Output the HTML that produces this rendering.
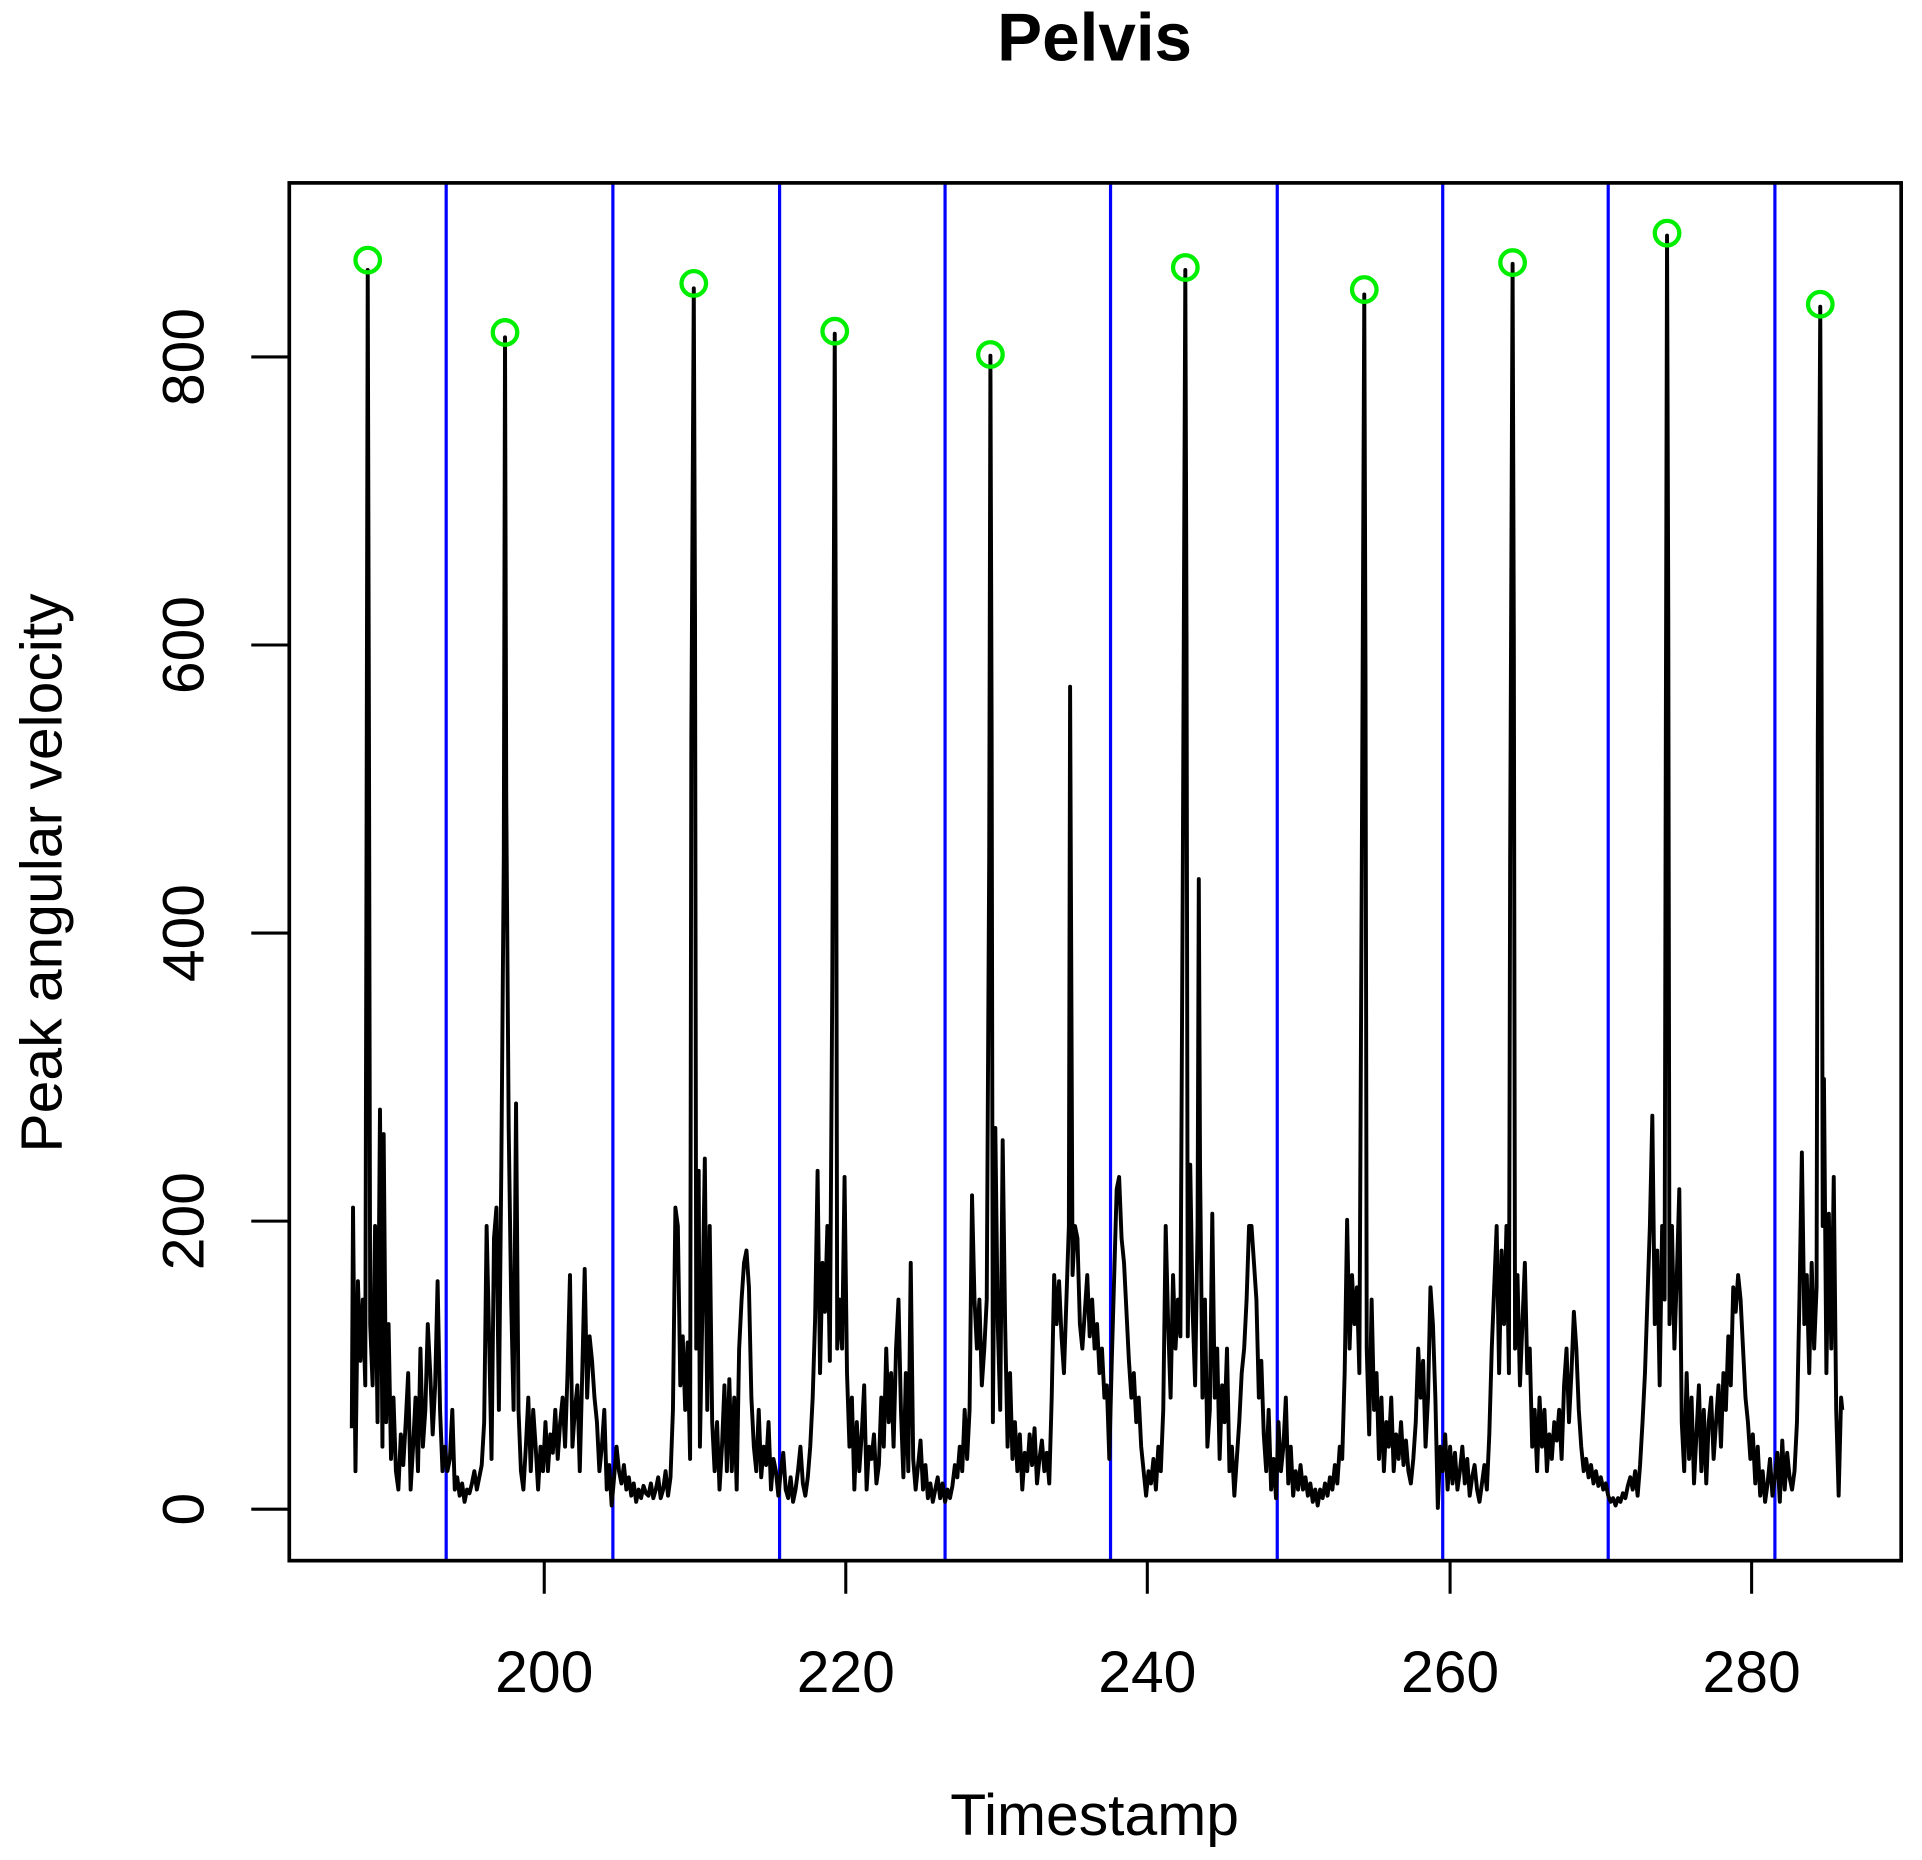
<!DOCTYPE html>
<html><head><meta charset="utf-8"><style>html,body{margin:0;padding:0;background:#fff}svg{display:block}</style></head>
<body>
<svg width="1922" height="1860" viewBox="0 0 1568 1517" xmlns="http://www.w3.org/2000/svg" font-family="Liberation Sans, Arial, sans-serif">
<rect width="1568" height="1517" fill="#fff"/>
<text x="893" y="49" font-size="55" font-weight="bold" text-anchor="middle">Pelvis</text>
<g stroke="#0000ff" stroke-width="2.6">
<line x1="364" y1="149" x2="364" y2="1273"/><line x1="500" y1="149" x2="500" y2="1273"/><line x1="636" y1="149" x2="636" y2="1273"/><line x1="771" y1="149" x2="771" y2="1273"/><line x1="906" y1="149" x2="906" y2="1273"/><line x1="1042" y1="149" x2="1042" y2="1273"/><line x1="1177" y1="149" x2="1177" y2="1273"/><line x1="1312" y1="149" x2="1312" y2="1273"/><line x1="1448" y1="149" x2="1448" y2="1273"/>
</g>
<polyline fill="none" stroke="#000" stroke-width="3.2" stroke-linejoin="round" points="287,1165 288,985 290,1200 292,1045 294,1110 296,1060 298,1130 299,700 300,220 301,600 302,1080 304,1130 306,1000 308,1160 310,905 312,1180 313,925 315,1160 317,1080 319,1190 321,1140 323,1200 325,1215 327,1170 329,1195 331,1160 333,1120 335,1215 337,1180 339,1140 341,1200 343,1100 345,1180 347,1150 349,1080 351,1120 353,1170 355,1130 357,1045 359,1150 361,1200 363,1180 365,1200 367,1190 369,1150 371,1215 373,1205 375,1220 377,1210 379,1225 381,1215 383,1218 385,1210 387,1200 389,1215 391,1205 393,1195 395,1160 397,1000 399,1090 401,1190 403,1010 405,985 407,1150 409,950 411,700 412,275 413,650 415,920 417,1060 419,1150 421,900 423,1150 425,1200 427,1215 429,1180 431,1140 433,1200 435,1150 437,1180 439,1215 441,1180 443,1200 445,1160 447,1200 449,1170 451,1185 453,1150 455,1190 457,1160 459,1140 461,1180 463,1120 465,1040 467,1180 469,1150 471,1130 473,1200 475,1120 477,1035 479,1140 481,1090 483,1110 485,1140 487,1160 489,1200 491,1180 493,1150 495,1215 497,1195 499,1228 501,1205 503,1180 505,1200 507,1210 509,1195 511,1215 513,1205 515,1220 517,1210 519,1225 521,1215 523,1222 525,1212 527,1218 529,1220 531,1210 533,1222 535,1215 537,1205 539,1222 541,1215 543,1200 545,1220 547,1205 549,1150 551,985 553,1000 555,1130 557,1090 559,1150 561,1095 563,1190 564,600 566,235 567,500 568,1100 570,955 571,1180 573,1070 575,945 577,1150 579,1000 581,1160 583,1200 585,1160 587,1215 589,1180 591,1130 593,1200 595,1125 597,1200 599,1140 601,1215 603,1100 605,1060 607,1030 609,1020 611,1050 613,1140 615,1180 617,1200 619,1150 621,1205 623,1180 625,1195 627,1160 629,1215 631,1190 633,1200 635,1220 637,1200 639,1185 641,1215 643,1222 645,1205 647,1225 649,1215 651,1200 653,1180 655,1210 657,1220 659,1205 661,1180 663,1140 665,1075 667,955 669,1120 671,1030 673,1070 675,1000 677,1110 679,800 681,272 682,550 683,1100 685,1060 687,1100 689,960 691,1120 693,1180 695,1140 697,1215 699,1160 701,1200 703,1170 705,1130 707,1215 709,1180 711,1190 713,1170 715,1210 717,1195 719,1140 721,1180 723,1100 725,1160 727,1120 729,1180 731,1100 733,1060 735,1150 737,1205 739,1120 741,1200 743,1030 745,1190 747,1215 749,1195 751,1175 753,1215 755,1195 757,1222 759,1210 761,1225 763,1215 765,1205 767,1222 769,1210 771,1225 773,1215 775,1222 777,1212 779,1195 781,1205 783,1180 785,1200 787,1150 789,1190 791,1150 793,975 795,1060 797,1100 799,1060 801,1130 803,1100 805,1060 807,700 808,290 809,600 810,1160 812,920 814,1080 816,1150 818,930 820,1080 822,1180 824,1120 826,1190 828,1160 830,1200 832,1170 834,1215 836,1185 838,1200 840,1170 842,1195 844,1165 846,1210 848,1190 850,1175 852,1200 854,1185 856,1210 858,1140 860,1040 862,1080 864,1045 866,1090 868,1120 870,1060 872,1000 873,560 874,800 875,1040 877,1000 879,1010 881,1080 883,1100 885,1070 887,1040 889,1090 891,1060 893,1100 895,1080 897,1120 899,1100 901,1140 903,1130 905,1190 907,1110 909,1040 911,970 913,960 915,1010 917,1030 919,1070 921,1110 923,1140 925,1120 927,1160 929,1140 931,1180 933,1200 935,1220 937,1200 939,1210 941,1190 943,1215 945,1180 947,1200 949,1150 951,1000 953,1080 955,1140 957,1040 959,1100 961,1060 963,1090 965,700 967,220 968,520 969,1090 971,950 973,1070 975,1130 977,1000 978,717 979,950 981,1140 983,1060 985,1180 987,1150 989,990 991,1140 993,1100 995,1190 997,1130 999,1160 1001,1100 1003,1200 1005,1180 1007,1220 1009,1190 1011,1160 1013,1120 1015,1100 1017,1060 1019,1000 1021,1000 1023,1030 1025,1060 1027,1140 1029,1110 1031,1170 1033,1200 1035,1150 1037,1215 1039,1190 1041,1222 1043,1160 1045,1200 1047,1180 1049,1140 1051,1210 1053,1180 1055,1220 1057,1200 1059,1215 1061,1195 1063,1215 1065,1205 1067,1220 1069,1210 1071,1225 1073,1215 1075,1228 1077,1215 1079,1222 1081,1210 1083,1220 1085,1205 1087,1215 1089,1195 1091,1210 1093,1180 1095,1190 1097,1120 1099,995 1101,1100 1103,1040 1105,1080 1107,1050 1109,1120 1111,700 1113,240 1114,550 1115,1100 1117,1170 1119,1060 1121,1150 1123,1120 1125,1190 1127,1140 1129,1200 1131,1160 1133,1180 1135,1140 1137,1200 1139,1170 1141,1190 1143,1160 1145,1195 1147,1175 1149,1200 1151,1210 1153,1190 1155,1160 1157,1100 1159,1140 1161,1110 1163,1180 1165,1140 1167,1050 1169,1080 1171,1140 1173,1230 1175,1180 1177,1200 1179,1170 1181,1215 1183,1180 1185,1210 1187,1185 1189,1215 1191,1200 1193,1180 1195,1210 1197,1190 1199,1220 1201,1205 1203,1195 1205,1215 1207,1225 1209,1210 1211,1195 1213,1215 1215,1170 1217,1100 1219,1050 1221,1000 1223,1120 1225,1020 1227,1080 1229,1000 1231,1120 1232,700 1234,215 1235,520 1236,1100 1238,1040 1240,1130 1242,1080 1244,1030 1246,1120 1248,1100 1250,1180 1252,1150 1254,1200 1256,1140 1258,1180 1260,1150 1262,1200 1264,1170 1266,1190 1268,1160 1270,1175 1272,1150 1274,1190 1276,1130 1278,1100 1280,1160 1282,1120 1284,1070 1286,1100 1288,1150 1290,1180 1292,1200 1294,1190 1296,1205 1298,1195 1300,1210 1302,1200 1304,1212 1306,1205 1308,1215 1310,1210 1312,1220 1314,1225 1316,1222 1318,1228 1320,1222 1322,1225 1324,1218 1326,1222 1328,1212 1330,1205 1332,1215 1334,1200 1336,1220 1338,1195 1340,1160 1342,1120 1344,1060 1346,1000 1348,910 1350,1080 1352,1020 1354,1130 1356,1000 1358,1060 1359,600 1360,192 1361,500 1362,1080 1364,1000 1366,1100 1368,1040 1370,970 1372,1160 1374,1200 1376,1120 1378,1190 1380,1140 1382,1210 1384,1170 1386,1130 1388,1200 1390,1150 1392,1210 1394,1160 1396,1140 1398,1190 1400,1160 1402,1130 1404,1180 1406,1120 1408,1150 1410,1090 1412,1130 1414,1050 1416,1070 1418,1040 1420,1060 1422,1100 1424,1140 1426,1160 1428,1190 1430,1170 1432,1210 1434,1180 1436,1220 1438,1200 1440,1225 1442,1210 1444,1190 1446,1220 1448,1205 1450,1185 1452,1225 1454,1175 1456,1215 1458,1185 1460,1205 1462,1215 1464,1200 1466,1160 1468,1060 1470,940 1472,1080 1474,1040 1476,1120 1478,1030 1480,1100 1482,1050 1483,600 1485,250 1486,520 1487,1000 1488,880 1490,1120 1492,990 1494,1100 1496,960 1498,1150 1500,1220 1502,1140 1503,1150"/>
<g fill="none" stroke="#00ee00" stroke-width="3.5">
<circle cx="300" cy="212" r="10"/><circle cx="412" cy="271" r="10"/><circle cx="566" cy="231" r="10"/><circle cx="681" cy="270" r="10"/><circle cx="808" cy="289" r="10"/><circle cx="967" cy="218" r="10"/><circle cx="1113" cy="236" r="10"/><circle cx="1234" cy="214" r="10"/><circle cx="1360" cy="190" r="10"/><circle cx="1485" cy="248" r="10"/>
</g>
<rect x="236" y="149" width="1315" height="1124" fill="none" stroke="#000" stroke-width="3"/>
<g stroke="#000" stroke-width="2.5">
<line x1="444" y1="1273" x2="444" y2="1300"/><line x1="690" y1="1273" x2="690" y2="1300"/><line x1="936" y1="1273" x2="936" y2="1300"/><line x1="1183" y1="1273" x2="1183" y2="1300"/><line x1="1429" y1="1273" x2="1429" y2="1300"/>
<line x1="236" y1="1231" x2="205" y2="1231"/><line x1="236" y1="996" x2="205" y2="996"/><line x1="236" y1="761" x2="205" y2="761"/><line x1="236" y1="526" x2="205" y2="526"/><line x1="236" y1="291" x2="205" y2="291"/>
</g>
<g font-size="48" text-anchor="middle">
<text x="444" y="1380">200</text><text x="690" y="1380">220</text><text x="936" y="1380">240</text><text x="1183" y="1380">260</text><text x="1429" y="1380">280</text>
<text transform="translate(166,1231) rotate(-90)">0</text>
<text transform="translate(166,996) rotate(-90)">200</text>
<text transform="translate(166,761) rotate(-90)">400</text>
<text transform="translate(166,526) rotate(-90)">600</text>
<text transform="translate(166,291) rotate(-90)">800</text>
<text x="893" y="1497">Timestamp</text>
<text transform="translate(50,712) rotate(-90)">Peak angular velocity</text>
</g>
</svg>
</body></html>
